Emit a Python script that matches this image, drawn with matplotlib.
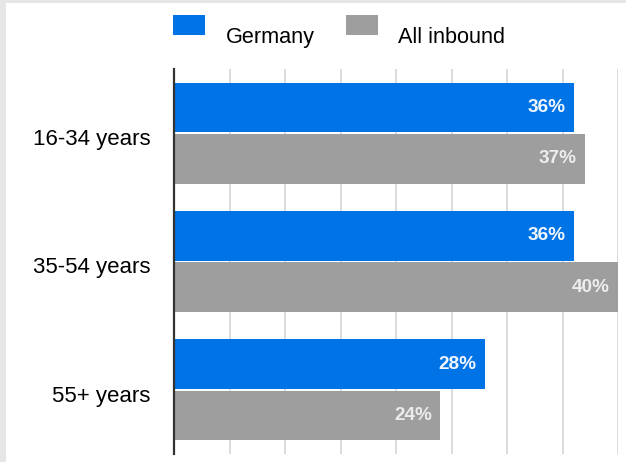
import matplotlib.pyplot as plt
from matplotlib.patches import Rectangle
from matplotlib.transforms import ScaledTranslation
import numpy as np

age_groups = ['16-34 years', '35-54 years', '55+ years']
series_names = ['Germany', 'All inbound']
germany = [36, 36, 28]
all_inbound = [37, 40, 24]
x_ticks = [0, 5, 10, 15, 20, 25, 30, 35, 40]

BLUE = '#0073e6'
GREY = '#9e9e9e'
SANS = ['Liberation Sans', 'DejaVu Sans']

fig = plt.figure(figsize=(6.26, 4.62), dpi=100)
fig.patch.set_facecolor('white')

# light frame along the left and top edges
fig.add_artist(Rectangle((0, 0), 6 / 626, 1, transform=fig.transFigure,
                         facecolor='#e6e6e6', edgecolor='none'))
fig.add_artist(Rectangle((0, 1 - 2.5 / 462), 1, 2.5 / 462, transform=fig.transFigure,
                         facecolor='#e6e6e6', edgecolor='none'))

ax = fig.add_axes([174 / 626, 8 / 462, (618 - 174) / 626, (454 - 69) / 462])

y = np.arange(len(age_groups))
h = 0.385
off = 0.2
ax.barh(y - off, germany, height=h, color=BLUE, zorder=3)
ax.barh(y + off, all_inbound, height=h, color=GREY, zorder=3)

for yi, v in zip(y, germany):
    ax.annotate(f'{v}%', (v, yi - off), xytext=(-8, 0), textcoords='offset pixels',
                ha='right', va='center', color='#f2f6ff', fontsize=13.7,
                fontweight='bold', family=SANS, zorder=4)
for yi, v in zip(y, all_inbound):
    ax.annotate(f'{v}%', (v, yi + off), xytext=(-8, 0), textcoords='offset pixels',
                ha='right', va='center', color='#ededed', fontsize=13.7,
                fontweight='bold', family=SANS, zorder=4)

ax.set_xlim(0, 40)
ax.set_ylim(len(age_groups) - 0.5, -0.5)
ax.set_xticks(x_ticks)
ax.set_xticklabels([])
ax.set_yticks(y)
ax.set_yticklabels(age_groups, family=SANS, fontsize=16)
ax.tick_params(axis='both', length=0)
ax.tick_params(axis='y', pad=17)
# category labels sit a little below the group centre
for lbl in ax.get_yticklabels():
    lbl.set_transform(lbl.get_transform() + ScaledTranslation(0, -4 / 100, fig.dpi_scale_trans))
ax.grid(axis='x', color='#dcdcdc', linewidth=1.4, zorder=0)
ax.set_axisbelow(True)
for side in ['top', 'right', 'bottom']:
    ax.spines[side].set_visible(False)
ax.spines['left'].set_color('#333333')
ax.spines['left'].set_linewidth(1.6)
ax.spines['left'].set_zorder(5)

# legend across the top
for x0, col, name, tx in [(173, BLUE, series_names[0], 226), (346, GREY, series_names[1], 398)]:
    fig.add_artist(Rectangle((x0 / 626, 1 - 35 / 462), 32 / 626, 20 / 462,
                             transform=fig.transFigure, facecolor=col, edgecolor='none'))
    fig.text(tx / 626, 1 - 43 / 462, name, ha='left', va='baseline',
             family=SANS, fontsize=15.6)

fig.savefig('out.png', dpi=100)
